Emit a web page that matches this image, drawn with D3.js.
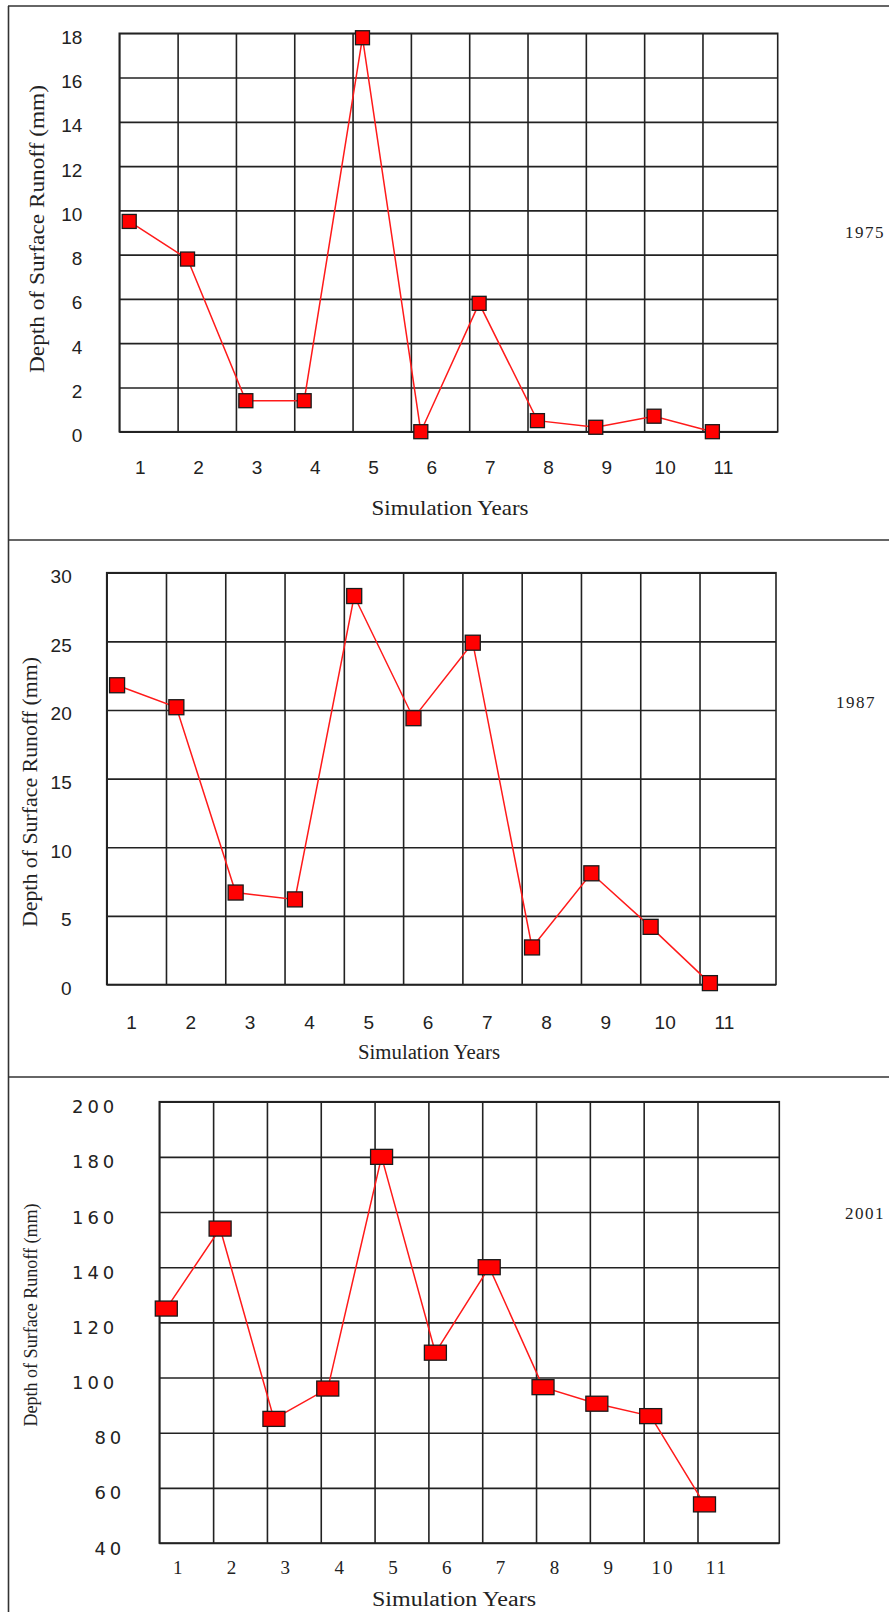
<!DOCTYPE html>
<html><head><meta charset="utf-8">
<script src="https://cdn.jsdelivr.net/npm/d3@7"></script>
<style>html,body{margin:0;padding:0;background:#fff;} svg{display:block;}</style>
</head><body>
<svg id="chart" width="889" height="1612"></svg>
<script>
// ---------------- data ----------------
const years = [1, 2, 3, 4, 5, 6, 7, 8, 9, 10, 11];
const runoff1975 = [9.5, 7.8, 1.4, 1.4, 17.8, 0, 5.8, 0.5, 0.2, 0.7, 0];
const runoff1987 = [21.8, 20.2, 6.7, 6.2, 28.3, 19.4, 24.9, 2.7, 8.1, 4.2, 0.1];
const runoff2001 = [125, 154, 85, 96, 180, 109, 140, 96.5, 90.5, 86, 54];
const yTicks1975 = [0, 2, 4, 6, 8, 10, 12, 14, 16, 18];
const yTicks1987 = [0, 5, 10, 15, 20, 25, 30];
const yTicks2001 = [40, 60, 80, 100, 120, 140, 160, 180, 200];
const yDomain1975 = [0, 18];
const yDomain1987 = [0, 30];
const yDomain2001 = [40, 200];
const panelYears = ["1975", "1987", "2001"];
const xAxisTitle = "Simulation Years";
const yAxisTitle = "Depth of Surface Runoff (mm)";

// ---------------- layout (positions / styles) ----------------
const panels = [
  { values: runoff1975, ticks: yTicks1975, domain: yDomain1975, year: panelYears[0],
    left: 119.3, right: 777.7, top: 33.3, bottom: 431.7, xMax: 11.29,
    markerOff: 0.17, labelOff: 0.36, mW: 14, mH: 14,
    yPad: 37, yTickFont: "'Liberation Sans', Arial, sans-serif", yTickSize: 19, yTickLS: 0, yDy: 10,
    xTickFont: "'Liberation Sans', Arial, sans-serif", xTickSize: 19, xTickLS: 0, xLabelY: 474,
    xTitle: { x: 450, y: 515, size: 21, len: 157 },
    yTitle: { x: 44, y: 229, size: 21, len: 288 },
    yearPos: { x: 845, y: 237.5 } },
  { values: runoff1987, ticks: yTicks1987, domain: yDomain1987, year: panelYears[1],
    left: 106.7, right: 776, top: 572.7, bottom: 984.5, xMax: 11.29,
    markerOff: 0.175, labelOff: 0.42, mW: 15, mH: 15,
    yPad: 35, yTickFont: "'Liberation Sans', Arial, sans-serif", yTickSize: 19, yTickLS: 0, yDy: 10,
    xTickFont: "'Liberation Sans', Arial, sans-serif", xTickSize: 19, xTickLS: 0, xLabelY: 1029,
    xTitle: { x: 429, y: 1059, size: 20, len: 142 },
    yTitle: { x: 37, y: 792, size: 20, len: 270 },
    yearPos: { x: 836, y: 707.5 } },
  { values: runoff2001, ticks: yTicks2001, domain: yDomain2001, year: panelYears[2],
    left: 159.3, right: 779.3, top: 1101.7, bottom: 1543, xMax: 11.52,
    markerOff: 0.13, labelOff: 0.36, mW: 22, mH: 15,
    yPad: 45, yTickFont: "'DejaVu Sans', Verdana, sans-serif", yTickSize: 18, yTickLS: 4, yDy: 11,
    xTickFont: "'Liberation Serif', 'Times New Roman', serif", xTickSize: 19, xTickLS: 2, xLabelY: 1574,
    xTitle: { x: 454, y: 1606, size: 20, len: 164 },
    yTitle: { x: 37, y: 1315, size: 19, len: 223 },
    yearPos: { x: 845, y: 1219 } }
];

const serif = "'Liberation Serif', 'Times New Roman', serif";
const gridColor = "#222";
const svg = d3.select("#chart");

// outer frame lines
const frame = svg.append("g").attr("stroke", "#333").attr("stroke-width", 1.6);
frame.append("line").attr("x1", 8.5).attr("x2", 8.5).attr("y1", 6).attr("y2", 1612);
[6, 540, 1077].forEach(yy => frame.append("line").attr("x1", 8).attr("x2", 889).attr("y1", yy).attr("y2", yy));

panels.forEach(p => {
  const g = svg.append("g");
  const w = p.right - p.left, h = p.bottom - p.top;
  const x = d3.scaleLinear().domain([0, p.xMax]).range([p.left, p.right]);
  const y = d3.scaleLinear().domain(p.domain).range([p.bottom, p.top]);

  // horizontal gridlines + y tick labels
  const yAx = g.append("g").attr("transform", `translate(${p.left},0)`)
    .call(d3.axisLeft(y).tickValues(p.ticks).tickSize(-w).tickPadding(p.yPad).tickFormat(d3.format("d")));
  yAx.select(".domain").remove();
  yAx.selectAll(".tick line").attr("stroke", gridColor).attr("stroke-width", 1.6);
  yAx.selectAll(".tick text")
    .attr("fill", "#222")
    .style("font-family", p.yTickFont).style("font-size", p.yTickSize + "px")
    .style("letter-spacing", p.yTickLS + "px")
    .attr("dy", p.yDy)
    .attr("dx", d => (p.yTickLS > 0 ? p.yTickLS : 0) + (p.yTickLS > 0 && d < 100 ? 7 : 0));

  // vertical gridlines
  const xAx = g.append("g").attr("transform", `translate(0,${p.bottom})`)
    .call(d3.axisBottom(x).tickValues(d3.range(0, years.length)).tickSize(-h).tickFormat(""));
  xAx.select(".domain").remove();
  xAx.selectAll(".tick line").attr("stroke", gridColor).attr("stroke-width", 1.6);

  // plot box
  g.append("rect").attr("x", x(0)).attr("y", y(p.domain[1]))
    .attr("width", x(p.xMax) - x(0)).attr("height", y(p.domain[0]) - y(p.domain[1]))
    .attr("fill", "none").attr("stroke", gridColor).attr("stroke-width", 1.6);

  // x tick labels
  g.append("g").selectAll("text").data(years).join("text")
    .attr("x", d => x(d - 1 + p.labelOff)).attr("y", p.xLabelY)
    .attr("text-anchor", "middle").attr("fill", "#222")
    .style("font-family", p.xTickFont).style("font-size", p.xTickSize + "px")
    .style("letter-spacing", p.xTickLS + "px")
    .text(d => d);

  // series line
  const pts = years.map((yr, i) => ({ yr, v: p.values[i] }));
  const line = d3.line().x(d => x(d.yr - 1 + p.markerOff)).y(d => y(d.v));
  g.append("path").datum(pts).attr("d", line)
    .attr("fill", "none").attr("stroke", "#ff1a1a").attr("stroke-width", 1.5);

  // markers
  g.append("g").selectAll("rect").data(pts).join("rect")
    .attr("x", d => x(d.yr - 1 + p.markerOff) - p.mW / 2)
    .attr("y", d => y(d.v) - p.mH / 2)
    .attr("width", p.mW).attr("height", p.mH)
    .attr("fill", "#ff0000").attr("stroke", "#1a1a1a").attr("stroke-width", 1.3);

  // axis titles
  g.append("text").attr("x", p.xTitle.x).attr("y", p.xTitle.y)
    .attr("text-anchor", "middle").attr("fill", "#222")
    .attr("textLength", p.xTitle.len).attr("lengthAdjust", "spacingAndGlyphs")
    .style("font-family", serif).style("font-size", p.xTitle.size + "px")
    .text(xAxisTitle);
  g.append("text")
    .attr("transform", `translate(${p.yTitle.x},${p.yTitle.y}) rotate(-90)`)
    .attr("text-anchor", "middle").attr("fill", "#222")
    .attr("textLength", p.yTitle.len).attr("lengthAdjust", "spacingAndGlyphs")
    .style("font-family", serif).style("font-size", p.yTitle.size + "px")
    .text(yAxisTitle);

  // year label
  g.append("text").attr("x", p.yearPos.x).attr("y", p.yearPos.y)
    .attr("fill", "#222").style("font-family", serif).style("font-size", "17px")
    .style("letter-spacing", "1.5px")
    .text(p.year);
});
</script>
</body></html>
